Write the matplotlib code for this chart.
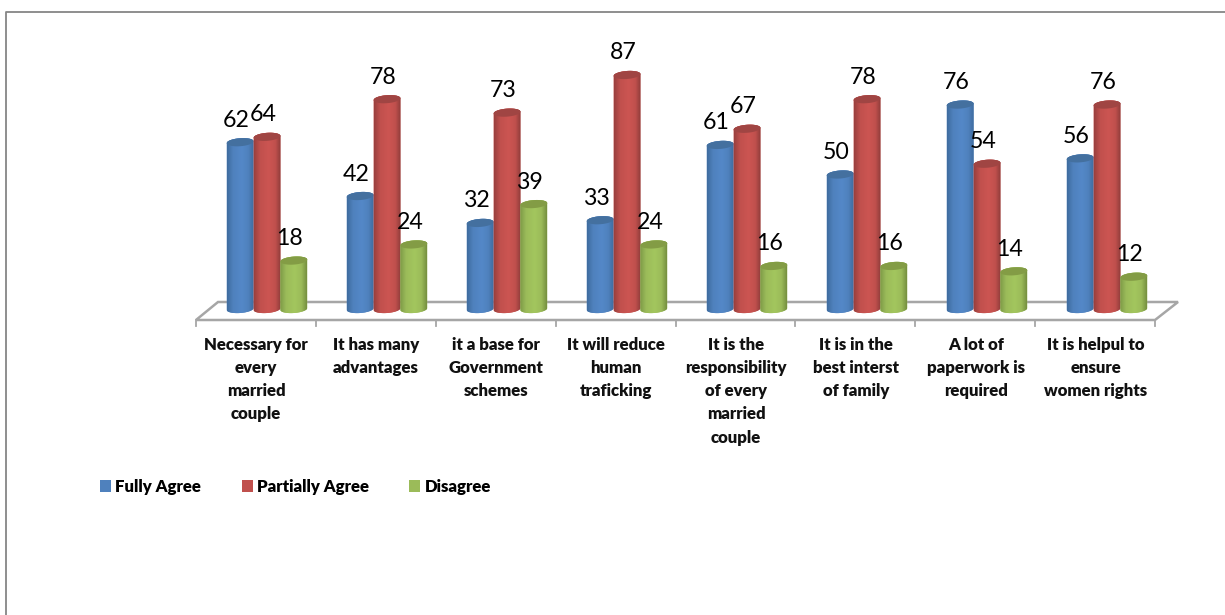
"""
marriage registration opinion survey - 3D style cylinder columns
"""

import matplotlib
matplotlib.use('Agg')
import matplotlib.pyplot as plt
import numpy as np
from matplotlib.colors import LinearSegmentedColormap
from matplotlib.patches import PathPatch, Polygon, Rectangle
from matplotlib.path import Path
from matplotlib.transforms import Affine2D

plt.rcParams['font.family'] = ['Lato', 'DejaVu Sans']

categories = [
    'Necessary for\nevery\nmarried\ncouple',
    'It has many\nadvantages',
    'it a base for\nGovernment\nschemes',
    'It will reduce\nhuman\ntraficking',
    'It is the\nresponsibility\nof every\nmarried\ncouple',
    'It is in the\nbest interst\nof family',
    'A lot of\npaperwork is\nrequired',
    'It is helpul to\nensure\nwomen rights',
]
series_names = ['Fully Agree', 'Partially Agree', 'Disagree']
fully_agree = [62, 42, 32, 33, 61, 50, 76, 56]
partially_agree = [64, 78, 73, 87, 67, 78, 54, 76]
disagree = [18, 24, 39, 24, 16, 16, 14, 12]

# edge, middle, highlight, far edge and cap shades for each series
shades = [
    ('#3f6c9f', '#4f81bd', '#5488c8', '#3f6c9f', '#44709f'),
    ('#9a403e', '#c0504d', '#cc5552', '#8f3c3a', '#a04543'),
    ('#7d9a47', '#9bbb59', '#a3c65e', '#76903f', '#839c45'),
]
legend_colors = ['#4f81bd', '#c0504d', '#9bbb59']
line_gray = '#a6a6a6'

W, H = 1225, 615
X0, GROUP = 267, 120   # first group centre and group pitch, px
Y0, UNIT = 309, 2.69   # floor level and px per value unit
BAR = 1 / 4.47         # bar width in group units
CAP = 4.0 / UNIT       # half height of the elliptical ends
TILT = 0.07 * GROUP / UNIT  # ends lean up to the right


def cylinder(ax, x, value, colors, z):
    edge, mid, hi, far, cap = colors
    t = np.linspace(0, np.pi, 40)
    dx = -np.cos(t) * BAR / 2
    bottom_y = -np.sin(t) * CAP + dx * TILT
    top_y = value + np.sin(t) * CAP + dx * TILT
    top_low = value - np.sin(t) * CAP + dx * TILT

    body = np.vstack([
        np.column_stack([x + dx, bottom_y]),
        np.column_stack([x + dx[::-1], top_y[::-1]]),
    ])
    patch = PathPatch(Path(np.vstack([body, body[:1]])), fc=mid, ec='none', zorder=z)
    ax.add_patch(patch)

    cmap = LinearSegmentedColormap.from_list(
        'shade', [(0, edge), (0.22, mid), (0.55, hi), (0.8, mid), (1, far)])
    im = ax.imshow(np.linspace(0, 1, 64).reshape(1, -1), cmap=cmap, aspect='auto',
                   extent=(x - BAR / 2, x + BAR / 2, -CAP * 2, value + CAP * 2),
                   zorder=z + 0.1, interpolation='bilinear')
    im.set_clip_path(patch)

    lid = np.vstack([np.column_stack([x + dx, top_low]),
                     np.column_stack([x + dx[::-1], top_y[::-1]])])
    ax.add_patch(Polygon(lid, closed=True, fc=cap, ec='none', zorder=z + 0.2))


def main():
    fig = plt.figure(figsize=(W / 100, H / 100), dpi=100)
    ax = fig.add_axes([0, 0, 1, 1])
    ax.axis('off')

    # plain pixel coordinates for the frame and the floor, origin top left
    px = Affine2D().scale(1, -1).translate(0, H)

    # chart frame, only its top and left edges are in view
    ax.plot([6, 6, W], [H, 11.5, 11.5], color='#868686', lw=1.3, transform=px, clip_on=False)

    # floor of the plot area
    ax.add_patch(Polygon([(196, 320), (218, 302), (1178, 302), (1155, 320)], closed=True,
                         fc='white', ec=line_gray, lw=1.8, transform=px, zorder=1))
    for i in range(len(categories) + 1):
        tick = 196 + i * (1155 - 196) / len(categories)
        ax.plot([tick, tick], [320, 326], color=line_gray, lw=1.3, transform=px, zorder=1)

    # columns, drawn left to right so that each one overlaps its left neighbour
    series = [fully_agree, partially_agree, disagree]
    for i in range(len(categories)):
        for s, values in enumerate(series):
            x = i + (s - 1) * BAR
            cylinder(ax, x, values[i], shades[s], 2 + i * 3 + s)
            ax.annotate(str(values[i]), (x, values[i]), xytext=(-4 * 0.72, 22 * 0.72),
                        textcoords='offset points', ha='center', va='center',
                        fontsize=16.7, color='black', zorder=60)

    for i, label in enumerate(categories):
        ax.text(i - 11 / GROUP, (Y0 - 337) / UNIT, label, ha='center', va='top',
                fontsize=12.1, fontweight='heavy', color='#111111', linespacing=1.55)

    handles = [Rectangle((0, 0), 1, 1, fc=c, ec='none') for c in legend_colors]
    fig.legend(handles, series_names, loc='center left', bbox_to_anchor=(100 / W, 1 - 487 / H),
               ncol=3, frameon=False, handlelength=0.66, handleheight=0.66, handletextpad=0.25,
               columnspacing=2.4, borderpad=0, borderaxespad=0,
               prop={'size': 12.1, 'weight': 'heavy'})

    # data limits that put the groups and the value scale on the pixel grid
    ax.set_xlim(-X0 / GROUP, (W - X0) / GROUP)
    ax.set_ylim((Y0 - H) / UNIT, Y0 / UNIT)

    fig.savefig('out.png', dpi=100, facecolor='white')


if __name__ == "__main__":
    main()
